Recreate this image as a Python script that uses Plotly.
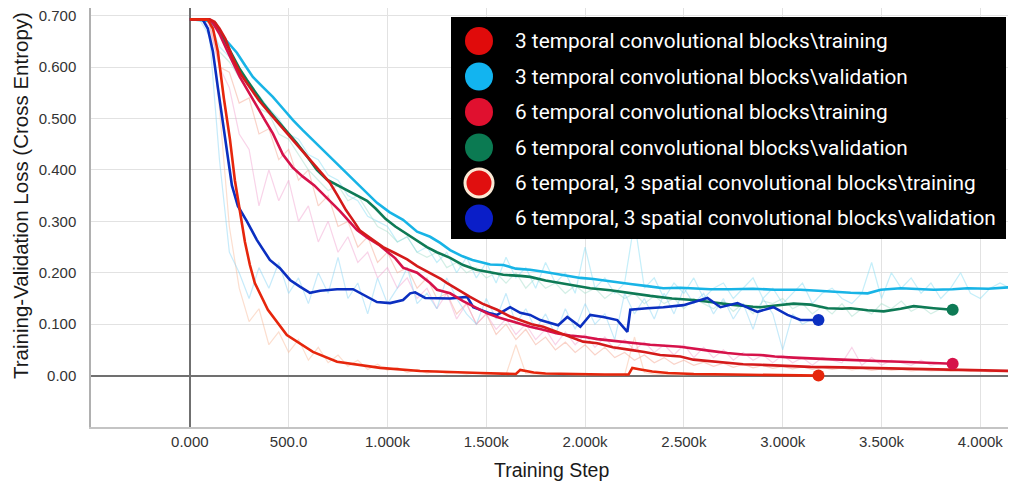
import plotly.graph_objects as go

# ---------------------------------------------------------------- data
NAMES = [
    "3 temporal convolutional blocks\\training",
    "3 temporal convolutional blocks\\validation",
    "6 temporal convolutional blocks\\training",
    "6 temporal convolutional blocks\\validation",
    "6 temporal, 3 spatial convolutional blocks\\training",
    "6 temporal, 3 spatial convolutional blocks\\validation",
]

X_TICKS = [0, 500, 1000, 1500, 2000, 2500, 3000, 3500, 4000]
X_TICK_TEXT = ["0.000", "500.0", "1.000k", "1.500k", "2.000k", "2.500k", "3.000k", "3.500k", "4.000k"]
Y_TICKS = [0.0, 0.1, 0.2, 0.3, 0.4, 0.5, 0.6, 0.7]
Y_TICK_TEXT = ["0.00", "0.100", "0.200", "0.300", "0.400", "0.500", "0.600", "0.700"]

# smoothed curves
T3_TRAIN_STEP = [0, 100, 125, 150, 180, 218, 260, 304, 350, 405, 455, 507, 560, 608, 660, 709, 745, 790, 830,
                 861, 912, 978, 1040, 1100, 1150, 1216, 1270, 1302, 1360, 1418, 1480, 1555, 1621, 1672, 1730,
                 1788, 1860, 1925, 1990, 2062, 2140, 2229, 2300, 2380, 2482, 2548, 2640, 2720, 2800, 2888, 3000,
                 3141, 3300, 3430, 3600, 3764, 3950, 4160]
T3_TRAIN_LOSS = [0.693, 0.693, 0.688, 0.675, 0.655, 0.617, 0.585, 0.560, 0.535, 0.510, 0.488, 0.465, 0.441,
                 0.420, 0.397, 0.375, 0.352, 0.322, 0.300, 0.282, 0.268, 0.250, 0.238, 0.226, 0.213, 0.200,
                 0.188, 0.180, 0.166, 0.153, 0.140, 0.128, 0.115, 0.108, 0.100, 0.095, 0.085, 0.075, 0.066,
                 0.063, 0.055, 0.050, 0.046, 0.040, 0.037, 0.031, 0.028, 0.025, 0.022, 0.021, 0.019, 0.017,
                 0.016, 0.015, 0.014, 0.013, 0.011, 0.009]

T3_VAL_STEP = [0, 100, 140, 167, 200, 238, 280, 319, 370, 420, 470, 522, 570, 623, 670, 709, 760, 826, 880, 947,
               1010, 1079, 1150, 1216, 1267, 1317, 1380, 1430, 1520, 1586, 1650, 1722, 1790, 1874, 1976, 2042,
               2128, 2229, 2315, 2396, 2482, 2548, 2634, 2736, 2850, 2960, 3090, 3180, 3257, 3344, 3430, 3496,
               3597, 3700, 3764, 3860, 3936, 4040, 4160]
T3_VAL_LOSS = [0.693, 0.690, 0.675, 0.659, 0.645, 0.628, 0.603, 0.581, 0.561, 0.542, 0.520, 0.497, 0.478,
               0.458, 0.440, 0.425, 0.405, 0.380, 0.360, 0.336, 0.318, 0.303, 0.280, 0.270, 0.258, 0.244,
               0.232, 0.225, 0.216, 0.215, 0.208, 0.206, 0.202, 0.196, 0.190, 0.188, 0.183, 0.178, 0.174,
               0.170, 0.171, 0.170, 0.168, 0.168, 0.169, 0.167, 0.167, 0.165, 0.163, 0.161, 0.160, 0.167,
               0.170, 0.168, 0.167, 0.168, 0.170, 0.169, 0.172]

T6_TRAIN_STEP = [0, 100, 117, 150, 187, 220, 253, 300, 339, 380, 420, 471, 520, 572, 630, 694, 730, 760, 811,
                 846, 900, 961, 1040, 1079, 1150, 1216, 1251, 1317, 1383, 1434, 1505, 1555, 1621, 1672, 1722,
                 1788, 1860, 1925, 2000, 2062, 2128, 2229, 2330, 2482, 2548, 2634, 2720, 2800, 2888, 2960,
                 3055, 3141, 3227, 3300, 3430, 3511, 3597, 3700, 3764, 3860]
T6_TRAIN_LOSS = [0.693, 0.692, 0.686, 0.665, 0.634, 0.607, 0.581, 0.550, 0.523, 0.497, 0.471, 0.430, 0.405,
                 0.387, 0.370, 0.345, 0.332, 0.320, 0.298, 0.283, 0.268, 0.253, 0.228, 0.210, 0.200, 0.180,
                 0.167, 0.160, 0.145, 0.135, 0.121, 0.114, 0.106, 0.100, 0.095, 0.089, 0.082, 0.078, 0.075,
                 0.071, 0.068, 0.064, 0.060, 0.056, 0.052, 0.048, 0.044, 0.041, 0.040, 0.037, 0.035, 0.033,
                 0.032, 0.031, 0.030, 0.028, 0.027, 0.025, 0.024, 0.023]

T6_VAL_STEP = [0, 100, 130, 170, 218, 250, 289, 330, 370, 410, 456, 500, 542, 590, 643, 694, 740, 795, 846, 897,
               940, 990, 1040, 1100, 1140, 1200, 1250, 1317, 1383, 1450, 1505, 1586, 1672, 1722, 1800, 1874,
               1940, 2026, 2128, 2229, 2330, 2440, 2548, 2634, 2736, 2850, 2888, 2953, 3055, 3141, 3227, 3300,
               3344, 3430, 3511, 3597, 3663, 3764, 3860]
T6_VAL_LOSS = [0.693, 0.692, 0.685, 0.655, 0.620, 0.598, 0.575, 0.552, 0.530, 0.511, 0.491, 0.471, 0.452,
               0.428, 0.400, 0.381, 0.372, 0.361, 0.350, 0.340, 0.325, 0.305, 0.290, 0.275, 0.264, 0.250,
               0.240, 0.229, 0.215, 0.206, 0.202, 0.196, 0.194, 0.192, 0.185, 0.180, 0.175, 0.170, 0.166,
               0.160, 0.155, 0.150, 0.147, 0.143, 0.138, 0.134, 0.133, 0.136, 0.140, 0.138, 0.131, 0.130,
               0.131, 0.127, 0.125, 0.130, 0.135, 0.131, 0.128]

T6S3_TRAIN_STEP = [0, 91, 117, 142, 172, 203, 228, 253, 279, 304, 329, 395, 491, 623, 745, 963, 1165, 1469,
                   1650, 1672, 1700, 1740, 1800, 1900, 2100, 2220, 2239, 2280, 2340, 2420, 2550, 2750, 2950, 3181]
T6S3_TRAIN_LOSS = [0.693, 0.692, 0.675, 0.630, 0.540, 0.460, 0.380, 0.320, 0.260, 0.215, 0.180, 0.128, 0.079,
                   0.046, 0.027, 0.015, 0.009, 0.005, 0.003, 0.011, 0.009, 0.006, 0.004, 0.003, 0.002, 0.002,
                   0.015, 0.012, 0.008, 0.005, 0.003, 0.002, 0.001, 0.000]

T6S3_VAL_STEP = [0, 66, 91, 117, 142, 177, 213, 243, 289, 339, 405, 456, 507, 557, 608, 659, 745, 826, 897, 947,
                 1013, 1079, 1115, 1140, 1191, 1251, 1317, 1403, 1434, 1520, 1555, 1621, 1672, 1722, 1773, 1864,
                 1910, 1976, 2026, 2092, 2163, 2214, 2229, 2315, 2396, 2498, 2619, 2685, 2771, 2872, 2953, 3024,
                 3090, 3181]
T6S3_VAL_LOSS = [0.693, 0.692, 0.675, 0.630, 0.560, 0.470, 0.370, 0.330, 0.300, 0.264, 0.225, 0.209, 0.186,
                 0.173, 0.161, 0.165, 0.168, 0.168, 0.153, 0.143, 0.141, 0.147, 0.160, 0.162, 0.151, 0.151,
                 0.150, 0.153, 0.133, 0.121, 0.118, 0.133, 0.122, 0.118, 0.108, 0.098, 0.114, 0.095, 0.118,
                 0.114, 0.108, 0.085, 0.128, 0.131, 0.133, 0.137, 0.151, 0.133, 0.141, 0.124, 0.133, 0.118,
                 0.108, 0.108]

# raw (unsmoothed) values, logged every 50 steps
RAW_STEPS = list(range(0, 4201, 50))
T3_TRAIN_RAW = [0.693, 0.693, 0.685, 0.600, 0.590, 0.530, 0.540, 0.470, 0.480, 0.420, 0.440, 0.380, 0.400, 0.330,
                0.350, 0.290, 0.300, 0.250, 0.270, 0.220, 0.240, 0.200, 0.210, 0.170, 0.190, 0.150, 0.160, 0.120,
                0.140, 0.100, 0.120, 0.080, 0.100, 0.070, 0.090, 0.060, 0.075, 0.050, 0.065, 0.045, 0.060, 0.040,
                0.055, 0.035, 0.045, 0.030, 0.040, 0.025, 0.035, 0.022, 0.030, 0.020, 0.026, 0.018, 0.024, 0.016,
                0.022, 0.015, 0.020, 0.014, 0.018, 0.013, 0.017, 0.012, 0.016, 0.012, 0.015, 0.011, 0.014, 0.010,
                0.013, 0.010, 0.012, 0.009, 0.011, 0.009, 0.010, 0.008, 0.010, 0.008, 0.009, 0.007, 0.008, 0.007]
T3_VAL_RAW = [0.693, 0.693, 0.688, 0.640, 0.620, 0.590, 0.560, 0.545, 0.520, 0.500, 0.470, 0.460, 0.430, 0.420,
              0.390, 0.380, 0.350, 0.340, 0.310, 0.300, 0.290, 0.260, 0.270, 0.240, 0.250, 0.220, 0.240, 0.200,
              0.230, 0.190, 0.220, 0.180, 0.230, 0.190, 0.210, 0.170, 0.220, 0.180, 0.200, 0.160, 0.250, 0.170,
              0.190, 0.160, 0.180, 0.300, 0.170, 0.190, 0.150, 0.180, 0.160, 0.190, 0.150, 0.170, 0.180, 0.150,
              0.170, 0.190, 0.150, 0.170, 0.140, 0.160, 0.180, 0.140, 0.160, 0.170, 0.150, 0.140, 0.160, 0.220,
              0.150, 0.200, 0.170, 0.190, 0.160, 0.180, 0.150, 0.170, 0.200, 0.160, 0.150, 0.170, 0.180, 0.170]
T6_TRAIN_RAW = [0.693, 0.693, 0.680, 0.600, 0.560, 0.470, 0.440, 0.330, 0.400, 0.340, 0.380, 0.300, 0.330, 0.260,
                0.300, 0.240, 0.270, 0.220, 0.240, 0.190, 0.210, 0.170, 0.190, 0.150, 0.170, 0.130, 0.160, 0.110,
                0.140, 0.100, 0.120, 0.090, 0.110, 0.080, 0.100, 0.070, 0.090, 0.060, 0.085, 0.060, 0.080, 0.055,
                0.075, 0.050, 0.070, 0.050, 0.065, 0.045, 0.060, 0.040, 0.060, 0.035, 0.055, 0.035, 0.050, 0.030,
                0.045, 0.030, 0.040, 0.025, 0.040, 0.025, 0.035, 0.020, 0.035, 0.030, 0.025, 0.055, 0.020, 0.035,
                0.020, 0.030, 0.025, 0.020, 0.030, 0.020, 0.025, 0.022]
T6_VAL_RAW = [0.693, 0.693, 0.688, 0.630, 0.610, 0.580, 0.550, 0.520, 0.510, 0.470, 0.460, 0.430, 0.400, 0.380,
              0.360, 0.370, 0.340, 0.350, 0.320, 0.290, 0.280, 0.260, 0.270, 0.240, 0.230, 0.240, 0.210, 0.220,
              0.200, 0.210, 0.190, 0.200, 0.180, 0.200, 0.170, 0.190, 0.170, 0.180, 0.160, 0.175, 0.160, 0.170,
              0.150, 0.165, 0.150, 0.160, 0.140, 0.155, 0.140, 0.150, 0.130, 0.150, 0.140, 0.130, 0.145, 0.125,
              0.140, 0.120, 0.145, 0.140, 0.150, 0.130, 0.140, 0.120, 0.135, 0.120, 0.140, 0.115, 0.130, 0.120,
              0.140, 0.130, 0.145, 0.125, 0.135, 0.120, 0.130, 0.125]
T6S3_TRAIN_RAW = [0.693, 0.693, 0.688, 0.520, 0.290, 0.170, 0.105, 0.130, 0.060, 0.085, 0.045, 0.070, 0.030,
                  0.055, 0.025, 0.040, 0.018, 0.030, 0.012, 0.022, 0.010, 0.016, 0.006, 0.012, 0.005, 0.009,
                  0.004, 0.006, 0.003, 0.005, 0.003, 0.004, 0.002, 0.060, 0.004, 0.003, 0.002, 0.003, 0.002,
                  0.002, 0.001, 0.002, 0.001, 0.002, 0.001, 0.075, 0.006, 0.003, 0.002, 0.002, 0.001, 0.002,
                  0.001, 0.001, 0.001, 0.002, 0.001, 0.001, 0.001, 0.001, 0.000, 0.001, 0.000, 0.000]
T6S3_VAL_RAW = [0.693, 0.692, 0.660, 0.420, 0.240, 0.200, 0.150, 0.210, 0.170, 0.220, 0.160, 0.190, 0.140, 0.200,
                0.160, 0.230, 0.150, 0.180, 0.120, 0.190, 0.140, 0.170, 0.210, 0.140, 0.160, 0.130, 0.190, 0.150,
                0.120, 0.100, 0.150, 0.110, 0.160, 0.100, 0.130, 0.090, 0.120, 0.080, 0.130, 0.090, 0.140, 0.100,
                0.120, 0.070, 0.160, 0.120, 0.150, 0.110, 0.160, 0.120, 0.170, 0.140, 0.160, 0.120, 0.150, 0.110,
                0.140, 0.090, 0.150, 0.120, 0.050, 0.120, 0.100, 0.110]

# ---------------------------------------------------------------- styling
LINE_COLORS = ["#d41a1a", "#18b4e6", "#d6124a", "#0e7a55", "#e6260c", "#0b2fc0"]
RAW_COLORS = ["#f4a08a", "#7fdcf4", "#f2a0cf", "#9fdcc8", "#f9b896", "#84d4f6"]
LEGEND_COLORS = ["#e00b0b", "#12b4f0", "#e0102f", "#0b7a52", "#e00f0f", "#0a1ec8"]

W, H = 1016, 488
ML, MR, MT, MB = 91, 8, 8, 61
PW, PH = W - ML - MR, H - MT - MB


def paper_x(px):
    return (px - ML) / PW


def paper_y(py):
    return (H - MB - py) / PH


curves = [
    (T3_TRAIN_STEP, T3_TRAIN_LOSS, T3_TRAIN_RAW),
    (T3_VAL_STEP, T3_VAL_LOSS, T3_VAL_RAW),
    (T6_TRAIN_STEP, T6_TRAIN_LOSS, T6_TRAIN_RAW),
    (T6_VAL_STEP, T6_VAL_LOSS, T6_VAL_RAW),
    (T6S3_TRAIN_STEP, T6S3_TRAIN_LOSS, T6S3_TRAIN_RAW),
    (T6S3_VAL_STEP, T6S3_VAL_LOSS, T6S3_VAL_RAW),
]

fig = go.Figure()

# faint raw curves underneath
for i, (_, _, raw) in enumerate(curves):
    fig.add_trace(go.Scatter(
        x=RAW_STEPS[:len(raw)], y=raw, mode="lines", showlegend=False, hoverinfo="skip",
        line=dict(color=RAW_COLORS[i], width=1.2), opacity=0.45,
    ))

# smoothed curves
for i in [1, 3, 5, 2, 0, 4]:
    steps, loss, _ = curves[i]
    fig.add_trace(go.Scatter(
        x=steps, y=loss, mode="lines", name=NAMES[i], showlegend=False,
        line=dict(color=LINE_COLORS[i], width=2.6),
    ))

# end-of-run markers for runs that stop inside the plot
for i in [2, 3, 4, 5]:
    steps, loss, _ = curves[i]
    fig.add_trace(go.Scatter(
        x=[steps[-1]], y=[loss[-1]], mode="markers", showlegend=False, hoverinfo="skip",
        marker=dict(color=LINE_COLORS[i], size=12),
    ))

# legend box drawn as shapes and text
shapes = [dict(type="rect", xref="paper", yref="paper", layer="above",
               x0=paper_x(451), x1=paper_x(1006), y0=paper_y(239), y1=paper_y(17),
               fillcolor="#000000", line=dict(width=0))]
annotations = []
for i, name in enumerate(NAMES):
    cy = 41 + i * 35.5
    ring = dict(color="#fbe8d4", width=3) if i == 4 else dict(width=0)
    shapes.append(dict(type="circle", xref="paper", yref="paper", layer="above",
                       x0=paper_x(465), x1=paper_x(493), y0=paper_y(cy + 14), y1=paper_y(cy - 14),
                       fillcolor=LEGEND_COLORS[i], line=ring))
    annotations.append(dict(xref="paper", yref="paper", x=paper_x(513), y=paper_y(cy),
                            xanchor="left", yanchor="middle", showarrow=False, text=name,
                            font=dict(family="Roboto, Arial, sans-serif", size=20.8, color="#ffffff")))

# axis titles
annotations.append(dict(xref="paper", yref="paper", x=paper_x(20), y=paper_y(196), textangle=-90,
                        xanchor="center", yanchor="middle", showarrow=False,
                        text="Training-Validation Loss (Cross Entropy)",
                        font=dict(family="Liberation Sans, Arial, sans-serif", size=20.5, color="#1a1a1a")))
annotations.append(dict(xref="paper", yref="paper", x=paper_x(551), y=paper_y(470),
                        xanchor="center", yanchor="middle", showarrow=False, text="Training Step",
                        font=dict(family="Liberation Sans, Arial, sans-serif", size=19.5, color="#1a1a1a")))

tick_font = dict(family="Liberation Sans, Arial, sans-serif", size=15, color="#333333")

fig.update_layout(
    width=W, height=H,
    margin=dict(l=ML, r=MR, t=MT, b=MB, pad=0),
    paper_bgcolor="#ffffff", plot_bgcolor="#ffffff",
    shapes=shapes, annotations=annotations, showlegend=False,
    xaxis=dict(range=[-500, 4140], tickvals=X_TICKS, ticktext=X_TICK_TEXT, tickfont=tick_font,
               showgrid=True, gridcolor="#e2e2e2", gridwidth=1,
               zeroline=True, zerolinecolor="#707070", zerolinewidth=2,
               showline=True, linecolor="#c4c4c4", linewidth=1.5,
               ticks="", ticklen=0),
    yaxis=dict(range=[-0.1, 0.715], tickvals=Y_TICKS, ticktext=Y_TICK_TEXT, tickfont=tick_font,
               showgrid=True, gridcolor="#e2e2e2", gridwidth=1,
               zeroline=True, zerolinecolor="#707070", zerolinewidth=2,
               showline=True, linecolor="#b0b0b0", linewidth=1.5,
               ticks="outside", ticklen=10, tickcolor="rgba(0,0,0,0)"),
)

fig.write_html("out.html")
